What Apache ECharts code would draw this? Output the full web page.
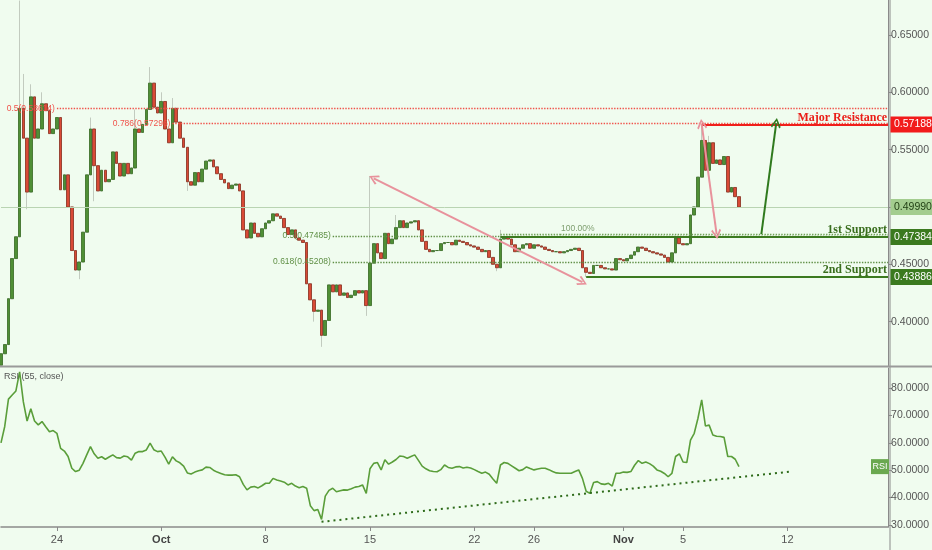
<!DOCTYPE html>
<html><head><meta charset="utf-8">
<script src="https://cdn.jsdelivr.net/npm/echarts@6/dist/echarts.min.js"></script>
<style>html,body{margin:0;padding:0;background:#f0fcef;}#c{width:932px;height:550px;}</style>
</head><body><div id="c"></div><script>
// ---- time slots (6h) ----
const startTime = Date.UTC(2018, 8, 20, 6);
const stepHours = 6;
const slotCount = 239;
function fmt(d){const p=n=>String(n).padStart(2,'0');return d.getUTCFullYear()+'-'+p(d.getUTCMonth()+1)+'-'+p(d.getUTCDate())+' '+p(d.getUTCHours())+':00';}
const categories = [];
for (let i=0;i<slotCount;i++) categories.push(fmt(new Date(startTime+i*stepHours*3600000)));

const tickDates = ['2018-09-24 00:00','2018-10-01 00:00','2018-10-08 00:00','2018-10-15 00:00','2018-10-22 00:00','2018-10-26 00:00','2018-11-01 00:00','2018-11-05 00:00','2018-11-12 00:00'];
const tickLabels = ['24','Oct','8','15','22','26','Nov','5','12'];

// ---- price closes (6h) ----
const firstOpen = 0.362;
const closes = [
0.372,0.380,0.420,0.455,0.474,0.586,0.560,0.513,0.596,0.560,
0.568,0.590,0.584,0.564,0.568,0.578,0.515,0.528,0.500,0.462,
0.445,0.452,0.478,0.528,0.568,0.536,0.514,0.532,0.522,0.524,
0.548,0.538,0.527,0.538,0.529,0.534,0.568,0.565,0.572,0.585,
0.608,0.587,0.582,0.592,0.568,0.556,0.586,0.574,0.560,0.552,
0.522,0.519,0.530,0.522,0.533,0.540,0.541,0.535,0.529,0.524,
0.521,0.516,0.519,0.520,0.514,0.480,0.473,0.486,0.477,0.474,
0.481,0.486,0.488,0.494,0.492,0.490,0.482,0.476,0.480,0.473,
0.471,0.469,0.433,0.419,0.409,0.410,0.388,0.401,0.432,0.426,
0.432,0.423,0.425,0.421,0.423,0.427,0.425,0.427,0.414,0.451,
0.468,0.460,0.455,0.477,0.468,0.472,0.482,0.488,0.482,0.486,
0.487,0.488,0.480,0.470,0.463,0.461,0.462,0.462,0.468,0.469,
0.469,0.467,0.471,0.470,0.469,0.467,0.466,0.465,0.463,0.461,
0.462,0.456,0.450,0.447,0.472,0.474,0.472,0.467,0.461,0.464,
0.467,0.468,0.464,0.467,0.466,0.465,0.463,0.462,0.461,0.461,
0.460,0.461,0.462,0.463,0.464,0.462,0.447,0.443,0.442,0.449,
0.449,0.447,0.446,0.446,0.445,0.455,0.454,0.453,0.455,0.458,
0.461,0.465,0.464,0.462,0.461,0.460,0.459,0.458,0.456,0.452,
0.460,0.473,0.468,0.467,0.468,0.493,0.500,0.526,0.558,0.532,
0.556,0.538,0.541,0.537,0.544,0.513,0.517,0.509,0.4999
];
const highWicks = [[5,0.680],[6,0.616],[8,0.607],[11,0.600],[24,0.578],[36,0.585],[40,0.622],[43,0.600],[46,0.595],[99,0.527],[106,0.493],[134,0.480],[188,0.5719],[190,0.562]];
const lowWicks = [[7,0.498],[21,0.437],[25,0.505],[50,0.514],[84,0.400],[86,0.378],[98,0.405],[157,0.4389],[133,0.444]];

// ---- RSI ----
const rsiValues = [
60,66,76,77.5,79,86,75,68,72.5,68,
66.6,67.8,65.9,64.1,64.5,63.5,58,57,55,50.7,
49.5,50,52.5,55.6,58.6,56,54.4,54.9,54,54.8,
55.6,54.6,54.4,55.2,54.9,53.7,56.2,56.8,56.8,57.4,
59.9,57.5,56.8,57,54.8,52.2,54.9,53.4,52.7,51.5,
49,48.6,49.3,49.8,50.1,51.1,51,50,49.3,48.8,
48.3,48.2,48.2,48.3,47.6,44.8,42.8,43.8,44,43.5,
44.3,45.2,45.2,47,46.4,46,45.6,44.6,45.2,44.2,
43.6,44,43.4,37,35.2,35.6,32,40.5,42.6,43.4,
42.1,42.5,42.8,42.7,43.2,43.8,44,44.6,41.5,50.5,
52.5,52.8,50.1,53.8,52.2,53,53.9,55.2,55,54.4,
55,55.6,53.6,51.5,50.5,49.8,49.5,49.4,50.2,51.9,
51,50.7,51.2,51.3,50.8,51.1,50.8,50.2,49.5,48.9,
49.3,48.5,46.8,45.2,51.9,52.8,52.5,51.6,50.7,49.8,
50.2,51.2,50.6,50.1,50.4,50.7,50.7,50.2,49.5,49,
48.9,48.9,48.9,48.9,49.5,50.1,47,42.3,41.5,45.5,
45.8,45,44.8,45.2,44.2,48.9,48.9,49.3,49.2,49.5,
51.8,53.5,52.5,53,52.4,51.5,50.1,49.6,48.8,47.6,
48.8,55,56,53,52.8,61,63.5,69,75.7,66.2,
66.5,62.9,62.4,62.3,62,55,55,54,51.3
];

// ---- drawings ----
const endIdx = 238;
const fibRed = [[15,0.58614,'0.5(0.58614)'],[46,0.57296,'0.786(0.57296)']];
const fibGreen = [[89,0.47485,'0.5(0.47485)'],[89,0.45208,'0.618(0.45208)']];
const resistance = [188,0.57188,'Major Resistance'];
const supports = [[134,0.47384,'1st Support'],[157,0.43886,'2nd Support']];
const fullLevel = [134,150,0.4766,'100.00%'];
const lastPrice = 0.4999;
const pinkArrows = [[[100,0.525],[156,0.4344]],[[188,0.5723],[192,0.4763]]];
const greenArrow = [[204,0.4763],[208,0.5732]];
const rsiTrend = [[86,31.1],[212,49.5]];
const priceTags = [[0.57188,'#f21b1b','#ffffff'],[0.4999,'#a3cd8f','#1f3d12'],[0.47384,'#3b7a1f','#ffffff'],[0.43886,'#3b7a1f','#ffffff']];

// ---- build ----
const opens = closes.map((c,i)=>i?closes[i-1]:firstOpen);
const bodies = closes.map((c,i)=>[opens[i],c,Math.min(opens[i],c),Math.max(opens[i],c)]);
const wicks = bodies.map(b=>b.slice());
highWicks.forEach(([i,v])=>{wicks[i][3]=Math.max(wicks[i][3],v);});
lowWicks.forEach(([i,v])=>{wicks[i][2]=Math.min(wicks[i][2],v);});

const chev = 'path://M5,0 L10,8.6 L8.6,10 L5,3 L1.4,10 L0,8.6 Z';
const serifBold = {fontFamily:'"Liberation Serif", serif', fontWeight:'bold', fontSize:12};
const fibFont = {fontSize:8.5, fontFamily:'"Liberation Sans", Arial'};
const mlData = [];
fibRed.forEach(([s,v,t])=>{mlData.push([{coord:[s,v],lineStyle:{color:'#f0524a',type:'dotted',width:1.4},label:Object.assign({show:true,position:'start',distance:2,formatter:t,color:'#f0524a'},fibFont)},{coord:[endIdx,v]}]);});
fibGreen.forEach(([s,v,t])=>{mlData.push([{coord:[s,v],lineStyle:{color:'#5f8f45',type:'dotted',width:1.4},label:Object.assign({show:true,position:'start',distance:2,formatter:t,color:'#5f8f45'},fibFont)},{coord:[endIdx,v]}]);});
mlData.push([{coord:[fullLevel[0],fullLevel[2]],lineStyle:{color:'#6f9f55',type:'dotted',width:1.4},label:{show:false}},{coord:[fullLevel[1],fullLevel[2]]}]);
mlData.push([{coord:[fullLevel[1],fullLevel[2]],lineStyle:{color:'#6f9f55',type:'dotted',width:1.4},label:Object.assign({show:true,position:'insideStartTop',distance:1,formatter:fullLevel[3],color:'#7f9f70'},fibFont)},{coord:[endIdx,fullLevel[2]]}]);
mlData.push([{coord:[0,lastPrice],lineStyle:{color:'#b9d4b2',type:'solid',width:1},label:{show:false}},{coord:[endIdx,lastPrice]}]);
mlData.push([{coord:[resistance[0],resistance[1]],lineStyle:{color:'#f01e1a',type:'solid',width:1.8},label:Object.assign({show:true,position:'insideEndTop',distance:1,formatter:resistance[2],color:'#ea1e18'},serifBold)},{coord:[endIdx,resistance[1]]}]);
supports.forEach(([s,v,t])=>{mlData.push([{coord:[s,v],lineStyle:{color:'#3b7a1f',type:'solid',width:1.8},label:Object.assign({show:true,position:'insideEndTop',distance:1,formatter:t,color:'#3a6e1e'},serifBold)},{coord:[endIdx,v]}]);});
pinkArrows.forEach(([a,b])=>{mlData.push([{coord:a,symbol:chev,lineStyle:{color:'#e8929c',type:'solid',width:2},label:{show:false}},{coord:b,symbol:chev}]);});
mlData.push([{coord:greenArrow[0],symbol:'none',lineStyle:{color:'#2f7a1e',type:'solid',width:2},label:{show:false}},{coord:greenArrow[1],symbol:chev}]);

const tickSet = new Set(tickDates);
const chart = echarts.init(document.getElementById('c'), null, {renderer:'canvas'});
const option = {
  backgroundColor:'#f0fcef',
  animation:false,
  grid:[{left:1,top:0,width:889,height:366},{left:1,top:368,width:889,height:159}],
  xAxis:[
    {type:'category',gridIndex:0,data:categories,boundaryGap:false,axisLine:{show:false},axisTick:{show:false},axisLabel:{show:false},splitLine:{show:false}},
    {type:'category',gridIndex:1,data:categories,boundaryGap:false,
     axisLine:{show:true,lineStyle:{color:'#8a8a8a',width:1.5}},
     axisTick:{show:true,length:4,interval:(i,v)=>tickSet.has(v),lineStyle:{color:'#8a8a8a'}},
     axisLabel:{show:true,interval:(i,v)=>tickSet.has(v),margin:7,color:'#555',fontSize:11,fontFamily:'"Liberation Sans", Arial',
       formatter:v=>{const t=tickLabels[tickDates.indexOf(v)]||'';return /^[A-Z]/.test(t)?'{b|'+t+'}':t;},
       rich:{b:{fontWeight:'bold',fontSize:11,color:'#444',fontFamily:'"Liberation Sans", Arial'}}},
     splitLine:{show:false}}
  ],
  yAxis:[
    {type:'value',gridIndex:0,position:'right',min:0.3613,max:0.6805,splitNumber:6,scale:true,
     axisLine:{show:true,lineStyle:{color:'#8a8a8a'}},axisTick:{show:true,length:4,lineStyle:{color:'#8a8a8a'}},
     axisLabel:{color:'#555',fontSize:10.5,margin:3,fontFamily:'"Liberation Sans", Arial',formatter:v=>v.toFixed(5),showMinLabel:false,showMaxLabel:false},splitLine:{show:false}},
    {type:'value',gridIndex:1,position:'right',min:29.2,max:87.4,splitNumber:5,
     axisLine:{show:true,lineStyle:{color:'#8a8a8a'}},axisTick:{show:true,length:4,lineStyle:{color:'#8a8a8a'}},
     axisLabel:{color:'#555',fontSize:10.5,margin:3,fontFamily:'"Liberation Sans", Arial',formatter:v=>v.toFixed(4),showMinLabel:false,showMaxLabel:false},splitLine:{show:false}}
  ],
  series:[
    {type:'candlestick',name:'wicks',xAxisIndex:0,yAxisIndex:0,data:wicks,barWidth:3.2,clip:true,z:1,
     itemStyle:{color:'rgba(0,0,0,0)',color0:'rgba(0,0,0,0)',borderColor:'#c2cbbf',borderColor0:'#c2cbbf',borderWidth:1}},
    {type:'candlestick',name:'bodies',xAxisIndex:0,yAxisIndex:0,data:bodies,barWidth:3.2,clip:true,z:2,
     itemStyle:{color:'#4f8f35',color0:'#d94a36',borderColor:'#3b6e27',borderColor0:'#8c3222',borderWidth:0.8},
     markLine:{silent:true,symbol:'none',symbolSize:10,animation:false,data:mlData}},
    {type:'line',xAxisIndex:1,yAxisIndex:1,data:rsiValues,symbol:'none',lineStyle:{color:'#5a9e3a',width:1.6},
     markLine:{silent:true,symbol:'none',animation:false,
       data:[[{coord:rsiTrend[0],lineStyle:{color:'#2e6b1a',type:[2,4],width:2},label:{show:false}},{coord:rsiTrend[1]}]]}}
  ]
};
chart.setOption(option);

const g = [];
g.push({type:'line',shape:{x1:0,y1:366.5,x2:932,y2:366.5},style:{stroke:'#9a9a9a',lineWidth:2},z:50});
g.push({type:'rect',shape:{x:891,y:528,width:41,height:22},style:{fill:'#f0fcef'},z:40});
g.push({type:'line',shape:{x1:890,y1:0,x2:890,y2:550},style:{stroke:'#8a8a8a',lineWidth:1},z:41});
priceTags.forEach(([v,bg,fg])=>{
  const y = chart.convertToPixel({yAxisIndex:0}, v);
  g.push({type:'rect',shape:{x:890.5,y:y-8,width:42,height:16},style:{fill:bg},z:100});
  g.push({type:'text',x:894,y:y,style:{text:v.toFixed(5),fill:fg,font:'10.5px "Liberation Sans", Arial',verticalAlign:'middle'},z:101});
});
const rsiY = chart.convertToPixel({yAxisIndex:1}, rsiValues[rsiValues.length-1]);
g.push({type:'rect',shape:{x:871,y:rsiY-7.5,width:18,height:15},style:{fill:'#6aa84f'},z:100});
g.push({type:'text',x:880,y:rsiY,style:{text:'RSI',fill:'#ffffff',font:'9px "Liberation Sans", Arial',align:'center',verticalAlign:'middle'},z:101});
g.push({type:'text',x:4,y:377,style:{text:'RSI (55, close)',fill:'#555',font:'9px "Liberation Sans", Arial',verticalAlign:'middle'},z:101});
chart.setOption({graphic:g});
</script></body></html>
